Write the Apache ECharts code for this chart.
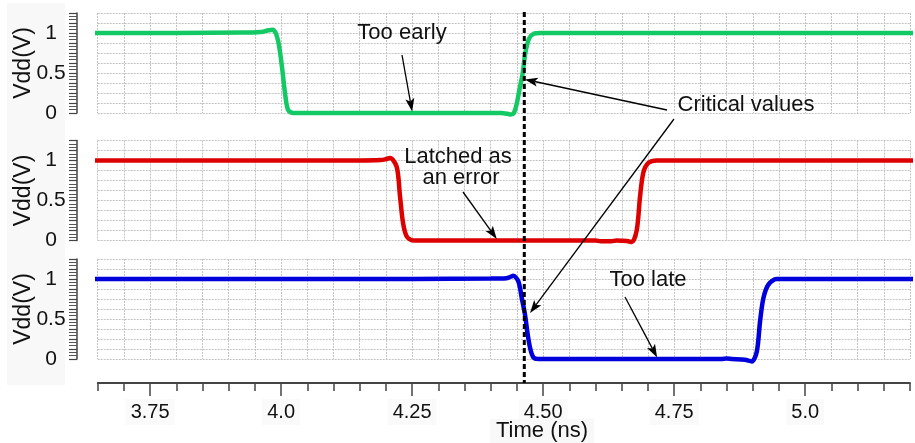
<!DOCTYPE html>
<html>
<head>
<meta charset="utf-8">
<script src="https://cdn.jsdelivr.net/npm/echarts@6/dist/echarts.min.js"></script>
<style>
  html, body { margin: 0; padding: 0; background: #ffffff; }
  #chart { width: 915px; height: 443px; }
</style>
</head>
<body>
<div id="chart"></div>
<script>
// Axis ticks and labels
const timeTicks = [3.75, 4.0, 4.25, 4.5, 4.75, 5.0];
const timeTickLabels = ['3.75', '4.0', '4.25', '4.50', '4.75', '5.0'];
const voltTicks = [0, 0.5, 1];
const voltTickLabels = ['0', '0.5', '1'];

// Data input that arrives too early (top trace)
const earlyTime = [3.64, 3.80, 3.93, 3.955, 3.966, 3.976, 3.9846, 3.994, 4.0017, 4.0074, 4.0132, 4.0227, 4.035,
  4.30, 4.42, 4.432, 4.438, 4.444, 4.449, 4.455, 4.461, 4.466, 4.473, 4.482, 4.495, 4.55, 5.21];
const earlyVdd = [1.0, 1.0, 1.005, 1.008, 1.015, 1.035, 1.04, 0.91, 0.57, 0.25, 0.04, 0.0, 0.0,
  0.0, 0.0, -0.01, -0.02, 0.0, 0.1, 0.3, 0.5, 0.75, 0.93, 0.99, 1.0, 1.0, 1.0];

// Data input latched as an error (middle trace)
const latchedTime = [3.64, 3.90, 4.15, 4.19, 4.199, 4.2078, 4.2206, 4.2269, 4.2326, 4.2397, 4.2517, 4.265,
  4.45, 4.60, 4.61, 4.63, 4.64, 4.66, 4.669, 4.6786, 4.6849, 4.6912, 4.7008, 4.7168, 4.75, 5.21];
const latchedVdd = [1.0, 1.0, 1.0, 1.005, 1.015, 1.03, 0.92, 0.55, 0.22, 0.05, 0.0, 0.0,
  0.0, 0.0, -0.01, -0.01, 0.0, -0.005, -0.02, 0.13, 0.55, 0.85, 0.97, 1.0, 1.0, 1.0];

// Data input that arrives too late (bottom trace)
const lateTime = [3.64, 4.10, 4.40, 4.43, 4.437, 4.4431, 4.4527, 4.4592, 4.4655, 4.4698, 4.475, 4.4813, 4.4908, 4.51,
  4.84, 4.85, 4.86, 4.885, 4.898, 4.9076, 4.9139, 4.9202, 4.9298, 4.9458, 4.98, 5.21];
const lateVdd = [1.0, 1.0, 1.005, 1.01, 1.025, 1.04, 0.97, 0.76, 0.55, 0.34, 0.14, 0.02, 0.0, 0.0,
  0.0, 0.005, 0.0, -0.01, -0.03, 0.09, 0.47, 0.76, 0.93, 1.0, 1.0, 1.0];

// Sampling instant marked by the dashed line
const criticalTime = 4.464;

const zip = (xs, ys) => xs.map((x, i) => [x, ys[i]]);
const FONT = '"Liberation Sans", Arial, sans-serif';
const TXT = '#111111';
const GRID_LINE = { show: true, lineStyle: { color: '#c4c4c4', type: [2, 1], width: 1 } };
const tops = [13, 140.5, 259];

const grids = tops.map(t => ({
  left: 97.7, right: 5, top: t, height: 100, containLabel: false, outerBoundsMode: 'none'
}));

function timeAxis(i) {
  return {
    type: 'value', gridIndex: i, position: 'bottom', min: 3.65, max: 5.2, interval: 0.05,
    axisLine: { show: false, onZero: false }, axisTick: { show: false }, axisLabel: { show: false },
    splitLine: GRID_LINE
  };
}

const xAxes = [timeAxis(0), timeAxis(1), Object.assign(timeAxis(2), {
  offset: 24,
  axisLine: { show: true, onZero: false, lineStyle: { color: '#444', width: 1.8 } },
  axisTick: { show: true, length: 8, lineStyle: { color: '#444', width: 1.5 } }
}), {
  // major ticks and labels of the time axis
  type: 'value', gridIndex: 2, position: 'bottom', min: 3.65, max: 5.2, offset: 24,
  axisLine: { show: false, onZero: false },
  axisTick: { show: true, customValues: timeTicks, length: 13, lineStyle: { color: '#444', width: 1.5 } },
  axisLabel: {
    show: true, customValues: timeTicks, margin: 16,
    fontFamily: FONT, fontSize: 20, color: TXT,
    backgroundColor: '#fafafa', padding: [3, 5],
    formatter: v => {
      const k = timeTicks.findIndex(t => Math.abs(t - v) < 1e-6);
      return k >= 0 ? timeTickLabels[k] : '';
    }
  },
  splitLine: { show: false }
}];

const yAxes = [0, 1, 2].map(i => ({
  type: 'value', gridIndex: i, position: 'left', min: 0, max: 1.25, interval: 0.125, offset: 20.7,
  name: 'Vdd(V)', nameLocation: 'middle', nameGap: 42, nameMoveOverlap: false,
  nameTextStyle: { fontFamily: FONT, fontSize: 23, color: TXT },
  axisLine: { show: true, onZero: false, lineStyle: { color: '#444', width: 1.5 } },
  axisTick: { show: true, length: 8, lineStyle: { color: '#444', width: 1.2 } },
  minorTick: { show: true, splitNumber: 3, length: 8, lineStyle: { color: '#555', width: 1 } },
  axisLabel: {
    show: true, customValues: voltTicks, margin: 26, align: 'center',
    fontFamily: FONT, fontSize: 21, color: TXT,
    formatter: v => {
      const k = voltTicks.findIndex(t => Math.abs(t - v) < 1e-6);
      return k >= 0 ? voltTickLabels[k] : '';
    }
  },
  splitLine: GRID_LINE
}));

function trace(xs, ys, color, i) {
  return {
    type: 'line', xAxisIndex: i, yAxisIndex: i, data: zip(xs, ys),
    showSymbol: false, smooth: 0.3, clip: false,
    lineStyle: { color: color, width: 4.5 }, z: 5
  };
}

const chart = echarts.init(document.getElementById('chart'), null, { renderer: 'canvas' });
chart.setOption({
  animation: false,
  backgroundColor: '#ffffff',
  grid: grids,
  xAxis: xAxes,
  yAxis: yAxes,
  series: [
    trace(earlyTime, earlyVdd, '#12c963', 0),
    trace(latchedTime, latchedVdd, '#dc0000', 1),
    trace(lateTime, lateVdd, '#0000dc', 2)
  ]
});

// Annotations: arrows point at data positions on the traces
const px = (g, t, v) => chart.convertToPixel({ gridIndex: g }, [t, v]);

function arrow(tail, tip) {
  const dx = tip[0] - tail[0], dy = tip[1] - tail[1];
  const len = Math.hypot(dx, dy), ux = dx / len, uy = dy / len;
  const hl = 13, hw = 4.5;
  const bx = tip[0] - ux * hl, by = tip[1] - uy * hl;
  return [
    { type: 'line', z: 100, shape: { x1: tail[0], y1: tail[1], x2: bx + ux * 3, y2: by + uy * 3 },
      style: { stroke: '#000', lineWidth: 1.3 } },
    { type: 'polygon', z: 100,
      shape: { points: [tip, [bx - uy * hw, by + ux * hw], [bx + ux * 3, by + uy * 3], [bx + uy * hw, by - ux * hw]] },
      style: { fill: '#000' } }
  ];
}

function label(text, x, y) {
  return { type: 'text', z: 100, x: x, y: y,
    style: { text: text, fontFamily: FONT, fontSize: 22, fill: TXT, align: 'center', verticalAlign: 'middle' } };
}

const xc = px(0, criticalTime, 0)[0];
const yTop = px(0, 0, 1.25)[1] - 1;
const yBottom = px(2, 0, 0)[1] + 24;

chart.setOption({
  graphic: [
    { type: 'rect', z: -10, silent: true, shape: { x: 7, y: 3, width: 58, height: 382 }, style: { fill: '#f8f8f8' } },
    { type: 'line', z: 90, shape: { x1: xc, y1: yTop, x2: xc, y2: yBottom },
      style: { stroke: '#000', lineWidth: 3, lineDash: [5, 3] } },
    label('Too early', 402, 33),
    ...arrow([402, 55], px(0, 4.25, 0.02)),
    label('Critical values', 746, 105),
    ...arrow([667, 110], px(0, 4.465, 0.42)),
    ...arrow([674, 119], px(2, 4.475, 0.575)),
    label('Latched as', 458, 157),
    label('an error', 461, 178),
    ...arrow([463, 192], px(1, 4.4115, 0.02)),
    label('Too late', 648, 280),
    ...arrow([625, 297], px(2, 4.7175, 0.02)),
    { type: 'text', z: 100, x: 542, y: 431,
      style: { text: 'Time (ns)', fontFamily: FONT, fontSize: 22, fill: TXT, align: 'center', verticalAlign: 'middle',
        backgroundColor: '#f8f8f8', padding: [1, 6] } }
  ]
});
</script>
</body>
</html>
